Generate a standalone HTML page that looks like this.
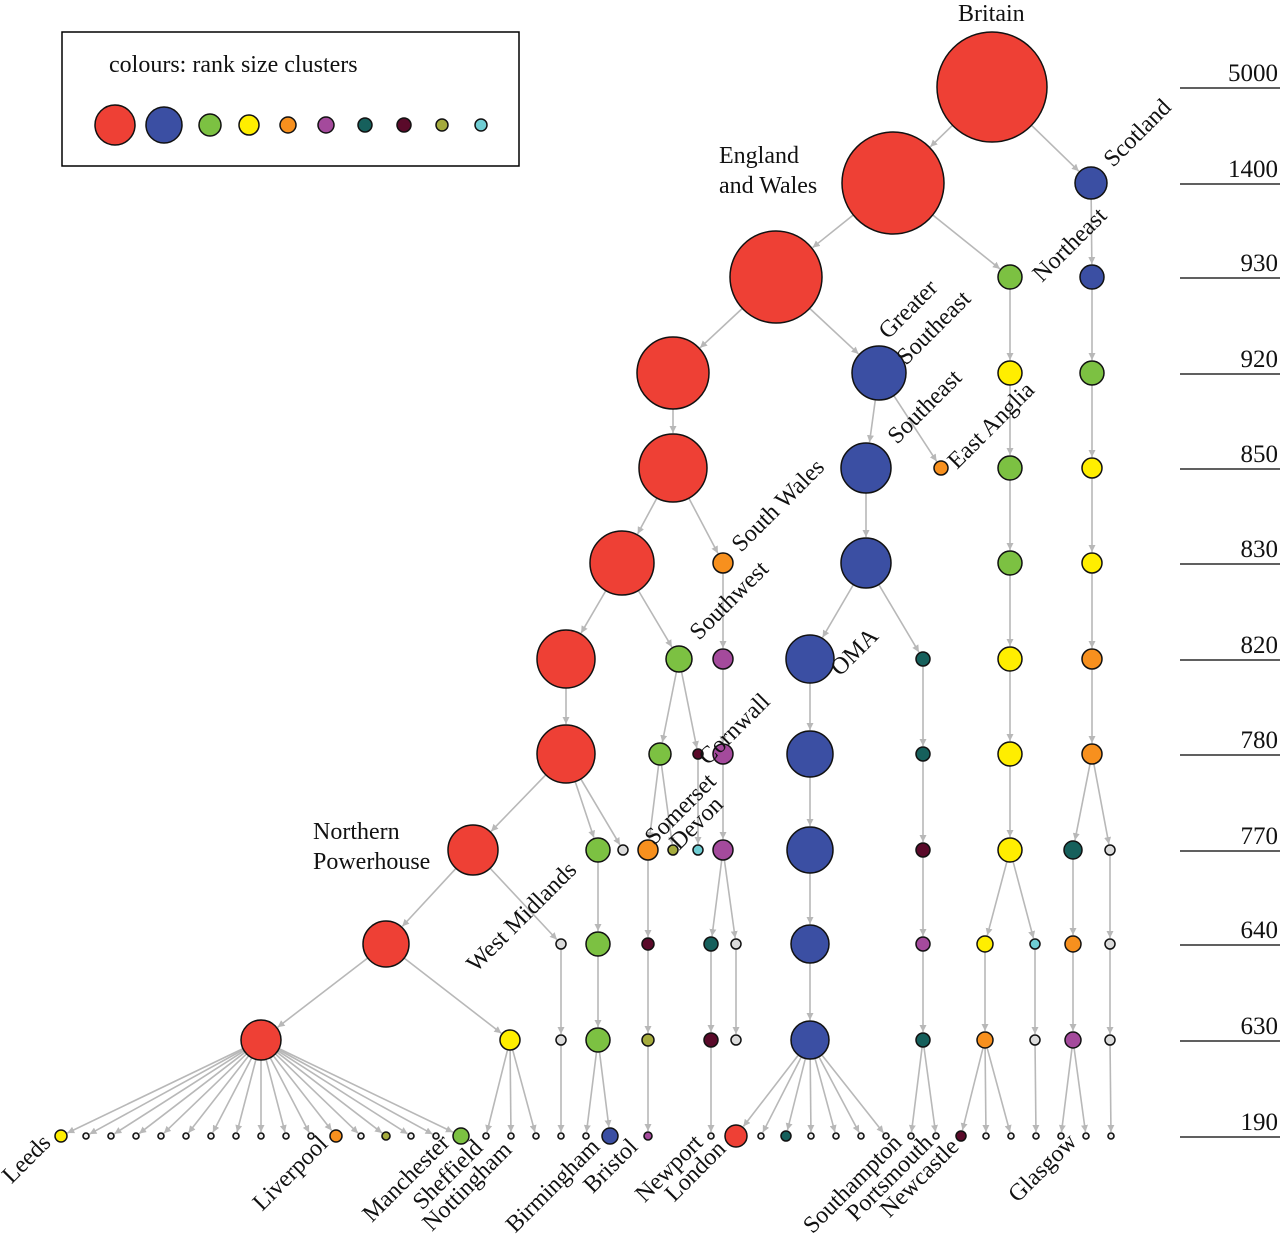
<!DOCTYPE html>
<html><head><meta charset="utf-8"><style>
html,body{margin:0;padding:0;background:#fff;}
svg{display:block;font-family:"Liberation Serif",serif;}
</style></head><body>
<svg id="chart" width="1280" height="1248" viewBox="0 0 1280 1248">
<defs><marker id="arr" viewBox="0 0 10 10" refX="10" refY="5" markerWidth="7" markerHeight="7" orient="auto-start-reverse" markerUnits="userSpaceOnUse"><path d="M0,0 L10,5 L0,10 z" fill="#b8b8b8"/></marker></defs>
<g>
<rect x="62" y="32" width="457" height="134" fill="#fff" stroke="#000" stroke-width="1.5"/>
<text x="109" y="72" font-size="24" fill="#111">colours: rank size clusters</text>
<g id="legend-swatches"></g>
</g>
<g id="scale"></g>
<g id="edges"></g>
<g id="nodes"></g>
<g id="labels" font-size="24" fill="#111">
<text x="958" y="21">Britain</text>
<text x="719" y="163">England</text>
<text x="719" y="193">and Wales</text>
<text x="313" y="839">Northern</text>
<text x="313" y="869">Powerhouse</text>
</g>
</svg>
<script>
const levelValues=[5000,1400,930,920,850,830,820,780,770,640,630,190];
const levelY=[87,183,277,373,468,563,659,754,850,944,1040,1136];
const colors={R:"#ee4035",B:"#3b4fa3",G:"#7cc142",Y:"#ffee00",O:"#f7901e",P:"#a44a9c",T:"#16605c",M:"#5a0a2a",L:"#a5ab3d",C:"#6fcdd3",X:"#dcdcdc",W:"#eeeeee"};
const legendKeys=["R","B","G","Y","O","P","T","M","L","C"];
const legendX=[115,164,210,249,288,326,365,404,442,481];
const legendR=[20,18,11,10,8,8,7,7,6,6];
const nodeLevel=[0,1,1,2,2,2,3,3,3,3,4,4,4,4,4,5,5,5,5,5,6,6,6,6,6,6,6,7,7,7,7,7,7,7,7,8,8,8,8,8,8,8,8,8,8,8,8,9,9,9,9,9,9,9,9,9,9,9,9,10,10,10,10,10,10,10,10,10,10,10,10,10];
const nodeX=[992,893,1091,776,1010,1092,673,879,1010,1092,673,866,941,1010,1092,622,723,866,1010,1092,566,679,723,810,923,1010,1092,566,660,698,723,810,923,1010,1092,473,598,623,648,673,698,723,810,923,1010,1073,1110,386,561,598,648,711,736,810,923,985,1035,1073,1110,261,510,561,598,648,711,736,810,923,985,1035,1073,1110];
const nodeR=[55,51,16,46,12,12,36,27,12,12,34,25,7,12,10,32,10,25,12,10,29,13,10,24,7,12,10,29,11,5,10,23,7,12,10,25,12,5,10,5,5,10,23,7,12,9,5,23,5,12,6,7,5,19,7,8,5,8,5,20,10,5,12,6,7,5,19,7,8,5,8,5];
const nodeColor=["R","R","B","R","G","B","R","B","Y","G","R","B","O","G","Y","R","O","B","G","Y","R","G","P","B","T","Y","O","R","G","M","P","B","T","Y","O","R","G","X","O","L","C","P","B","M","Y","T","X","R","X","G","M","T","X","B","P","Y","C","O","X","R","Y","X","G","L","M","X","B","T","O","X","P","X"];
const nodeParent=[-1,0,0,1,1,2,3,3,4,5,6,7,7,8,9,10,10,11,13,14,15,15,16,17,17,18,19,20,21,21,22,23,24,25,26,27,27,27,28,28,29,30,31,32,33,34,34,35,35,36,38,41,41,42,43,44,44,45,46,47,47,48,49,50,51,52,53,54,55,56,57,58];
const leafX=[61,86,111,136,161,186,211,236,261,286,311,336,361,386,411,436,461,486,511,536,561,586,610,648,711,736,761,786,811,836,861,886,911,936,961,986,1011,1036,1061,1086,1111];
const leafColor=["Y","W","W","W","W","W","W","W","W","W","W","O","W","L","W","W","G","W","W","W","W","W","B","P","W","R","W","T","W","W","W","W","W","W","M","W","W","W","W","W","W"];
const leafR=[6,3,3,3,3,3,3,3,3,3,3,6,3,4,3,3,8,3,3,3,3,3,8,4,3,11,3,5,3,3,3,3,3,3,5,3,3,3,3,3,3];
const leafParent=[59,59,59,59,59,59,59,59,59,59,59,59,59,59,59,59,59,60,60,60,61,62,62,63,64,66,66,66,66,66,66,66,67,67,68,68,68,69,70,70,71];
const rotLabels=[
["Scotland",1113,168,"start"],["Northeast",1042,283,"start"],["Greater",888,340,"start"],["Southeast",906,366,"start"],
["Southeast",897,445,"start"],["East Anglia",957,470,"start"],["South Wales",741,553,"start"],["Southwest",699,641,"start"],
["OMA",840,677,"start"],["Cornwall",708,766,"start"],["Somerset",654,846,"start"],["Devon",679,851,"start"],["West Midlands",476,973,"start"],
["Leeds",52,1144,"end"],["Liverpool",329,1145,"end"],["Manchester",451,1144,"end"],["Sheffield",484,1149,"end"],["Nottingham",513,1151,"end"],
["Birmingham",601,1148,"end"],["Bristol",639,1148,"end"],["Newport",704,1144,"end"],["London",727,1150,"end"],
["Southampton",903,1144,"end"],["Portsmouth",934,1144,"end"],["Newcastle",960,1148,"end"],["Glasgow",1078,1143,"end"]];
const NS="http://www.w3.org/2000/svg";
function yScale(l){return levelY[l];}
function mk(t,a,p){const e=document.createElementNS(NS,t);for(const k in a)e.setAttribute(k,a[k]);p.appendChild(e);return e;}
const lg=document.getElementById('legend-swatches');
legendKeys.forEach((k,i)=>{const c=mk('circle',{cx:legendX[i],cy:125,r:legendR[i],fill:colors[k],stroke:'#111','stroke-width':1.5},lg);

});
const sc=document.getElementById('scale');
levelValues.forEach((v,i)=>{const y=yScale(i);
const ln=mk('line',{x1:1180,x2:1280,y1:y+1,y2:y+1,stroke:'#000','stroke-width':1.3},sc);


const t=mk('text',{x:1278,y:y-6,'text-anchor':'end','font-size':25,fill:'#111'},sc);t.textContent=v;

});
const all=[];
nodeX.forEach((x,i)=>all.push({x:x,y:yScale(nodeLevel[i]),r:nodeR[i],c:nodeColor[i],p:nodeParent[i]}));
leafX.forEach((x,i)=>all.push({x:x,y:yScale(11),r:leafR[i],c:leafColor[i],p:leafParent[i],leaf:1}));
const eg=document.getElementById('edges'),ng=document.getElementById('nodes');
all.forEach(n=>{if(n.p<0)return;const p=all[n.p];const dx=n.x-p.x,dy=n.y-p.y,d=Math.hypot(dx,dy);
const ux=dx/d,uy=dy/d;
const l=mk('line',{x1:p.x+ux*p.r,y1:p.y+uy*p.r,x2:n.x-ux*(n.r+1),y2:n.y-uy*(n.r+1),stroke:'#b8b8b8','stroke-width':1.6,'marker-end':'url(#arr)'},eg);

});
all.forEach(n=>{const c=mk('circle',{cx:n.x,cy:n.y,r:n.r,fill:colors[n.c],stroke:'#111','stroke-width':n.r<5?1.6:1.5},ng);

});
const lb=document.getElementById('labels');
rotLabels.forEach(a=>{const t=mk('text',{x:a[1],y:a[2],'text-anchor':a[3],transform:'rotate(-45 '+a[1]+' '+a[2]+')'},lb);t.textContent=a[0];

});
</script>
</body></html>
